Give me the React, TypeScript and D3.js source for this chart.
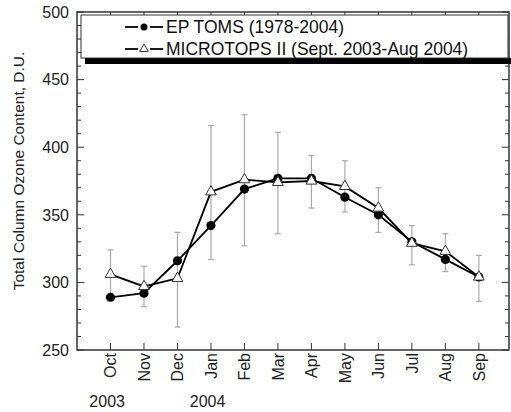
import React from "react";
import * as d3 from "d3";

const months = ["Oct", "Nov", "Dec", "Jan", "Feb", "Mar", "Apr", "May", "Jun", "Jul", "Aug", "Sep"];
const years = [
  { label: "2003", at: -0.1 },
  { label: "2004", at: 2.9 },
];
const tomsValues = [289, 292, 316, 342, 369, 377, 377, 363, 350, 330, 317, 304];
const microValues = [306, 297, 303, 367, 376, 374, 375, 371, 355, 329, 323, 304];
const microUpper = [324, 312, 337, 416, 424, 411, 394, 390, 370, 342, 336, 320];
const microLower = [288, 282, 267, 317, 327, 336, 355, 352, 337, 313, 308, 286];
const yTicks = [250, 300, 350, 400, 450, 500];
const yMinorTicks = d3.range(250, 501, 10);
const legendLabels = ["EP TOMS (1978-2004)", "MICROTOPS II (Sept. 2003-Aug 2004)"];
const yTitle = "Total Column Ozone Content, D.U.";

const W = 511;
const H = 412;
const L = 77;
const R = 509;
const T = 12;
const B = 350;
const font = "Liberation Sans, Arial, sans-serif";

export default function App() {
  const x = d3.scaleLinear().domain([-1, 11.9]).range([L, R]);
  const y = d3.scaleLinear().domain([250, 500]).range([B, T]);
  const line = d3
    .line<number>()
    .x((_, i) => x(i))
    .y((d) => y(d));
  const tri = d3.symbol().type(d3.symbolTriangle).size(50)();
  const legTri = d3.symbol().type(d3.symbolTriangle).size(32)();
  const axisColor = "#333";

  return (
    <svg width={W} height={H} style={{ position: "absolute", left: 0, top: 0, background: "#fff" }}>
      {/* error bars */}
      <g stroke="#aaa" strokeWidth={1.2}>
        {months.map((m, i) => (
          <g key={m}>
            <line x1={x(i)} x2={x(i)} y1={y(microUpper[i])} y2={y(microLower[i])} />
            <line x1={x(i) - 3} x2={x(i) + 3} y1={y(microUpper[i])} y2={y(microUpper[i])} />
            <line x1={x(i) - 3} x2={x(i) + 3} y1={y(microLower[i])} y2={y(microLower[i])} />
          </g>
        ))}
      </g>
      {/* lines */}
      <path d={line(tomsValues) || ""} fill="none" stroke="#000" strokeWidth={1.8} />
      <path d={line(microValues) || ""} fill="none" stroke="#000" strokeWidth={1.8} />
      {/* markers */}
      {tomsValues.map((v, i) => (
        <circle key={"c" + i} cx={x(i)} cy={y(v)} r={4.6} fill="#000" />
      ))}
      {microValues.map((v, i) => (
        <path
          key={"t" + i}
          d={tri || ""}
          transform={`translate(${x(i)},${y(v)})`}
          fill="#fff"
          stroke="#333"
          strokeWidth={1}
        />
      ))}
      {/* frame */}
      <rect x={L} y={T} width={R - L} height={B - T} fill="none" stroke={axisColor} strokeWidth={1.5} />
      {/* y ticks */}
      {yMinorTicks.map((t) => {
        const major = t % 50 === 0;
        const len = major ? 7 : 4;
        return (
          <g key={"y" + t} stroke={axisColor} strokeWidth={1}>
            <line x1={L} x2={L + len} y1={y(t)} y2={y(t)} />
            <line x1={R} x2={R - len} y1={y(t)} y2={y(t)} />
          </g>
        );
      })}
      {yTicks.map((t) => (
        <text
          key={"yl" + t}
          x={L - 8}
          y={y(t)}
          dy="0.36em"
          textAnchor="end"
          fontFamily={font}
          fontSize={16}
          fill="#222"
        >
          {t}
        </text>
      ))}
      {/* x ticks */}
      {months.map((m, i) => (
        <g key={"x" + m}>
          <line x1={x(i)} x2={x(i)} y1={B} y2={B - 7} stroke={axisColor} strokeWidth={1} />
          <line x1={x(i)} x2={x(i)} y1={T} y2={T + 7} stroke={axisColor} strokeWidth={1} />
          <text
            transform={`translate(${x(i)},${B + 3}) rotate(-90)`}
            dy="0.36em"
            textAnchor="end"
            fontFamily={font}
            fontSize={16}
            fill="#222"
          >
            {m}
          </text>
        </g>
      ))}
      {years.map((yr) => (
        <text
          key={yr.label}
          x={x(yr.at)}
          y={407}
          textAnchor="middle"
          fontFamily={font}
          fontSize={16}
          fill="#222"
        >
          {yr.label}
        </text>
      ))}
      {/* y title */}
      <text
        transform={`translate(24,${(T + 330) / 2}) rotate(-90)`}
        textAnchor="middle"
        fontFamily={font}
        fontSize={15.5}
        fill="#222"
      >
        {yTitle}
      </text>
      {/* legend */}
      <rect x={85} y={58} width={430} height={6} fill="#000" />
      <rect x={81} y={15} width={427} height={43} fill="#fff" stroke="#333" strokeWidth={1} />
      {legendLabels.map((lab, i) => {
        const ly = i === 0 ? 27 : 49;
        return (
          <g key={lab}>
            <line x1={125} x2={138} y1={ly} y2={ly} stroke="#000" strokeWidth={1.8} />
            <line x1={150} x2={163} y1={ly} y2={ly} stroke="#000" strokeWidth={1.8} />
            {i === 0 ? (
              <circle cx={144} cy={ly} r={3.5} fill="#000" />
            ) : (
              <path d={legTri || ""} transform={`translate(144,${ly})`} fill="#fff" stroke="#333" strokeWidth={1} />
            )}
            <text x={166} y={ly} dy="0.36em" fontFamily={font} fontSize={17.5} fill="#111">
              {lab}
            </text>
          </g>
        );
      })}
    </svg>
  );
}
